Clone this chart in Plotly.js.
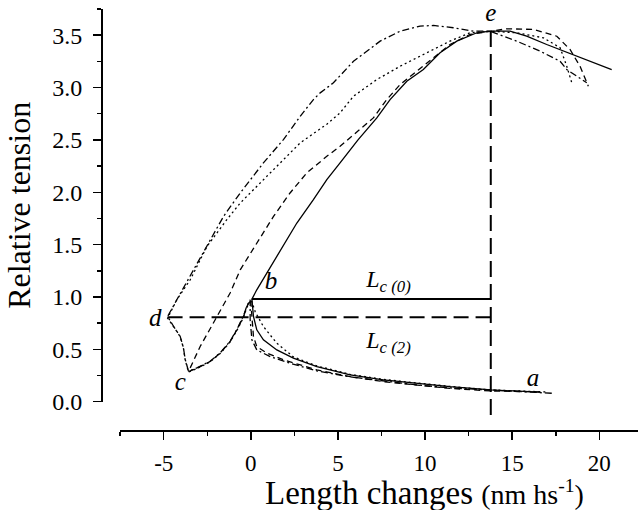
<!DOCTYPE html>
<html>
<head>
<meta charset="utf-8">
<script src="https://cdn.plot.ly/plotly-3.0.1.min.js"></script>
<style>
html,body{margin:0;padding:0;background:#fff;}
#chart{width:638px;height:510px;}
</style>
</head>
<body>
<div id="chart"></div>
<script>
// Solid curve: a -> b -> e -> end
const solidX = [16.6, 13.77, 11.43, 9.52, 7.61, 5.70, 3.79, 2.44, 1.49, 0.72, 0.34, 0.15, 0.06,
  0.34, 0.92, 1.68, 2.64, 3.59, 4.36, 5.12, 6.15, 7.23, 7.99, 8.95, 9.90, 10.86, 11.82, 12.97, 13.73, 14.88, 15.83, 16.98, 18.51, 19.28, 20.71];
const solidY = [0.09, 0.112, 0.143, 0.176, 0.208, 0.255, 0.335, 0.415, 0.494, 0.590, 0.686, 0.813, 0.979,
  1.068, 1.228, 1.451, 1.706, 1.929, 2.120, 2.280, 2.50, 2.710, 2.885, 3.060, 3.172, 3.332, 3.443, 3.523, 3.538, 3.538, 3.490, 3.411, 3.316, 3.268, 3.172];

// Dashed curve: a -> b -> c -> e -> end
const dashX = [16.6, 13.73, 11.43, 9.52, 7.61, 5.70, 3.79, 1.87, 0.92, 0.34, 0.15, 0.06, -0.01,
  -0.23, -0.42, -0.80, -1.19, -1.76, -2.34, -3.10, -3.58,
  -2.91, -1.95, -1.19, -0.61, 0.34, 1.30, 2.25, 3.21, 4.36, 5.12, 7.03, 7.80, 8.57, 9.52, 10.48, 11.43, 12.58, 13.73, 14.69, 16.21, 17.56, 18.32, 18.89, 19.37];
const dashY = [0.093, 0.102, 0.126, 0.155, 0.191, 0.239, 0.303, 0.399, 0.463, 0.526, 0.622, 0.813, 0.973,
  0.908, 0.813, 0.686, 0.574, 0.463, 0.383, 0.319, 0.287,
  0.526, 0.813, 1.037, 1.259, 1.515, 1.769, 1.993, 2.184, 2.343, 2.439, 2.710, 2.885, 3.029, 3.156, 3.284, 3.411, 3.507, 3.538, 3.561, 3.555, 3.490, 3.363, 3.204, 3.012];

// Dotted curve: a -> b -> c -> d -> e -> end
const dotX = [16.9, 13.73, 11.43, 9.52, 7.61, 5.70, 3.79, 2.44, 1.49, 0.72, 0.25, 0.02,
  -0.23, -0.42, -0.80, -1.19, -1.76, -2.34, -3.10, -3.58,
  -3.77, -3.87, -4.06, -4.44, -4.78,
  -4.25, -3.48, -2.52, -1.38, -0.61, 0.34, 1.49, 2.83, 4.36, 5.12, 5.89, 7.23, 8.57, 10.10, 11.43, 12.58, 13.73, 15.26, 16.79, 17.75, 18.13, 18.42];
const dotY = [0.093, 0.112, 0.145, 0.179, 0.212, 0.260, 0.341, 0.427, 0.558, 0.717, 0.858, 0.973,
  0.900, 0.805, 0.680, 0.570, 0.460, 0.380, 0.315, 0.283,
  0.399, 0.511, 0.622, 0.717, 0.798,
  0.973, 1.164, 1.482, 1.738, 1.897, 2.056, 2.247, 2.471, 2.650, 2.758, 2.917, 3.076, 3.204, 3.332, 3.443, 3.523, 3.538, 3.523, 3.475, 3.380, 3.204, 3.045];

// Dash-dot curve: a -> b -> c -> d -> e -> end
const ddX = [17.27, 13.73, 11.43, 9.52, 7.61, 5.70, 3.79, 2.25, 1.11, 0.34, 0.06, -0.04, -0.04,
  -0.23, -0.42, -0.80, -1.19, -1.76, -2.34, -3.10, -3.58,
  -3.77, -3.87, -4.06, -4.44, -4.78,
  -4.25, -3.29, -2.52, -1.57, -0.61, 0.72, 1.87, 2.83, 3.59, 3.98, 4.74, 5.89, 7.42, 8.57, 9.71, 10.48, 11.62, 12.77, 13.73, 15.26, 16.60, 17.75, 18.13, 18.70, 19.28];
const ddY = [0.080, 0.107, 0.131, 0.160, 0.198, 0.236, 0.294, 0.367, 0.430, 0.494, 0.590, 0.781, 0.973,
  0.915, 0.820, 0.690, 0.578, 0.466, 0.386, 0.322, 0.290,
  0.405, 0.515, 0.625, 0.720, 0.813,
  0.973, 1.259, 1.482, 1.769, 1.993, 2.280, 2.503, 2.725, 2.885, 2.949, 3.045, 3.251, 3.443, 3.538, 3.586, 3.593, 3.571, 3.538, 3.538, 3.443, 3.347, 3.251, 3.172, 3.108, 3.045];

// Reference lines
const lc0X = [0.06, 13.77], lc0Y = [0.98, 0.98];
const lc2X = [-4.78, 13.77], lc2Y = [0.805, 0.805];
const vertX = [13.77, 13.77], vertY = [3.54, -0.19];

// Point labels
const ptText = ['<i>a</i>', '<i>b</i>', '<i>c</i>', '<i>d</i>', '<i>e</i>'];
const ptX = [16.2, 1.16, -4.05, -5.49, 13.77];
const ptY = [0.21, 1.14, 0.17, 0.78, 3.7];
const lcText = ['<i>L</i><sub><i>c (0)</i></sub>', '<i>L</i><sub><i>c (2)</i></sub>'];
const lcTX = [7.9, 7.9];
const lcTY = [1.15, 0.57];

// Axis ticks
const yTicks = [0, 0.5, 1, 1.5, 2, 2.5, 3, 3.5];
const yTickText = ['0.0', '0.5', '1.0', '1.5', '2.0', '2.5', '3.0', '3.5'];
const xTicks = [-5, 0, 5, 10, 15, 20];
const xTickText = ['-5', '0', '5', '10', '15', '20'];
const xTitle = 'Length changes <span style="font-size:28px">(nm hs<sup>-1</sup>)</span>';
const yTitle = 'Relative tension';

const FONT = 'Liberation Serif';
const base = {type: 'scatter', mode: 'lines', xaxis: 'x', yaxis: 'y2', hoverinfo: 'skip', showlegend: false};
const traces = [
  Object.assign({}, base, {x: solidX, y: solidY, line: {color: '#000', width: 1.3}}),
  Object.assign({}, base, {x: dashX, y: dashY, line: {color: '#000', width: 1.3, dash: '6px,4px'}}),
  Object.assign({}, base, {x: dotX, y: dotY, line: {color: '#000', width: 1.3, dash: '2px,3px'}}),
  Object.assign({}, base, {x: ddX, y: ddY, line: {color: '#000', width: 1.3, dash: '7px,3px,2px,3px'}}),
  Object.assign({}, base, {x: lc0X, y: lc0Y, line: {color: '#000', width: 2}}),
  Object.assign({}, base, {x: lc2X, y: lc2Y, line: {color: '#000', width: 2, dash: '15px,7px'}}),
  Object.assign({}, base, {x: vertX, y: vertY, line: {color: '#000', width: 2, dash: '16px,7px'}}),
  Object.assign({}, base, {mode: 'text', x: ptX, y: ptY, text: ptText, textfont: {family: FONT, size: 25, color: '#000'}, cliponaxis: false}),
  Object.assign({}, base, {mode: 'text', x: lcTX, y: lcTY, text: lcText, textfont: {family: FONT, size: 24, color: '#000'}, cliponaxis: false}),
  {type: 'scatter', mode: 'lines', x: [], y: [], xaxis: 'x', yaxis: 'y', showlegend: false, hoverinfo: 'skip'}
];

const layout = {
  width: 638, height: 510,
  margin: {l: 101, r: 0, t: 9, b: 80},
  font: {family: FONT, color: '#000'},
  showlegend: false,
  xaxis: {
    domain: [0.0354, 1], range: [-7.51, 22.22], anchor: 'free', position: 0,
    showgrid: false, zeroline: false, showline: true, linecolor: '#000', linewidth: 1.5,
    tickmode: 'array', tickvals: xTicks, ticktext: xTickText,
    ticks: 'outside', ticklen: 8, tickwidth: 1.5, tickcolor: '#000',
    ticklabelstandoff: 4,
    minor: {tickmode: 'linear', tick0: -7.5, dtick: 2.5, ticks: 'outside', ticklen: 4},
    tickfont: {family: FONT, size: 23, color: '#000'}
  },
  yaxis: {
    domain: [0.0672, 1], range: [0, 3.75], anchor: 'free', position: 0,
    showgrid: false, zeroline: false, showline: true, linecolor: '#000', linewidth: 1.5,
    tickmode: 'array', tickvals: yTicks, ticktext: yTickText,
    ticks: 'outside', ticklen: 8, tickwidth: 1.5, tickcolor: '#000',
    ticklabelstandoff: 6,
    minor: {tickmode: 'linear', tick0: 0, dtick: 0.25, ticks: 'outside', ticklen: 4},
    tickfont: {family: FONT, size: 24, color: '#000'},
    title: {text: yTitle, font: {family: FONT, size: 32, color: '#000'}, standoff: 10},
    automargin: true
  },
  yaxis2: {
    domain: [0, 1], range: [-0.271, 3.75], anchor: 'free', position: 0,
    visible: false, showgrid: false, zeroline: false
  },
  annotations: [{
    text: xTitle, xref: 'paper', yref: 'paper', x: 0.603, y: -0.1496,
    xanchor: 'center', yanchor: 'middle', showarrow: false,
    font: {family: FONT, size: 33, color: '#000'}
  }]
};

Plotly.newPlot('chart', traces, layout, {staticPlot: true});
</script>
</body>
</html>
